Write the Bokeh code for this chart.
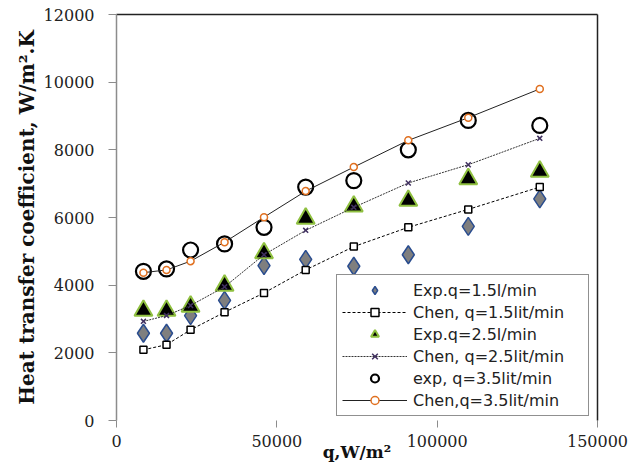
from bokeh.plotting import figure
from bokeh.models import LinearAxis, Range1d, FixedTicker, Legend, BasicTickFormatter
from bokeh.embed import file_html
from bokeh.resources import INLINE

# data
q = [8400, 15600, 23100, 33700, 46000, 59000, 74000, 91000, 109700, 132000]
exp_15 = [2580, 2580, 3100, 3550, 4580, 4760, 4560, 4900, 5740, 6550]
chen_15 = [2090, 2240, 2680, 3200, 3770, 4450, 5140, 5710, 6240, 6900]
exp_25 = [3250, 3250, 3370, 3990, 4950, 5970, 6330, 6500, 7140, 7360]
chen_25 = [2930, 3100, 3400, 3950, 4900, 5620, 6300, 7020, 7560, 8340]
exp_35 = [4410, 4480, 5040, 5220, 5710, 6900, 7090, 8000, 8870, 8720]
chen_35 = [4370, 4450, 4710, 5270, 6010, 6780, 7490, 8280, 8950, 9800]

x_ticks = [0, 50000, 100000, 150000]
y_ticks = [0, 2000, 4000, 6000, 8000, 10000, 12000]

labels = ["Exp.q=1.5l/min", "Chen, q=1.5lit/min", "Exp.q=2.5l/min",
          "Chen, q=2.5lit/min", "exp, q=3.5lit/min", "Chen,q=3.5lit/min"]

p = figure(width=630, height=466, output_backend="svg", toolbar_location=None,
           x_range=Range1d(0, 150000), y_range=Range1d(0, 12000),
           min_border_left=116, min_border_right=33, min_border_top=14,
           min_border_bottom=46)
p.outline_line_color = None
p.xgrid.visible = False
p.ygrid.visible = False
p.background_fill_color = "white"
p.border_fill_color = "white"

grey = "#8c8c8c"
serif = "DejaVu Serif"

# x axis
xa = p.xaxis[0]
xa.ticker = FixedTicker(ticks=x_ticks)
xa.formatter = BasicTickFormatter(use_scientific=False)
xa.axis_line_color = None
xa.major_tick_line_color = grey
xa.major_tick_in = 0
xa.major_tick_out = 7
xa.minor_tick_line_color = None
xa.major_label_text_font = serif
xa.major_label_text_font_size = "16px"
xa.major_label_text_color = "#222222"
xa.major_label_standoff = 7
xa.axis_label = "q,W/m\u00b2"
xa.axis_label_text_font = serif
xa.axis_label_text_font_style = "bold"
xa.axis_label_text_font_size = "17px"
xa.axis_label_text_color = "#111111"
xa.axis_label_standoff = -8

# y axis
ya = p.yaxis[0]
ya.ticker = FixedTicker(ticks=y_ticks)
ya.formatter = BasicTickFormatter(use_scientific=False)
ya.axis_line_color = grey
ya.axis_line_width = 1.5
ya.major_tick_line_color = grey
ya.major_tick_in = 0
ya.major_tick_out = 8
ya.minor_tick_line_color = None
ya.major_label_text_font = serif
ya.major_label_text_font_size = "16px"
ya.major_label_text_color = "#222222"
ya.major_label_standoff = 14
ya.axis_label = "Heat transfer coefficient, W/m\u00b2.K"
ya.axis_label_text_font = serif
ya.axis_label_text_font_style = "bold"
ya.axis_label_text_font_size = "20px"
ya.axis_label_text_color = "#111111"
ya.axis_label_standoff = 2

# frame lines top and right
for side in ("above", "right"):
    ax = LinearAxis(ticker=FixedTicker(ticks=[]), major_label_text_font_size="0px",
                    axis_line_color="#222222", axis_line_width=1.5,
                    major_tick_line_color=None, minor_tick_line_color=None,
                    major_label_standoff=0)
    p.add_layout(ax, side)

items = []
r1 = p.scatter(q, exp_15, marker="diamond", size=18, fill_color="#7f7f7f",
               line_color="#2a4d8f", line_width=1.5)
items.append((labels[0], [r1]))

l2 = p.line(q, chen_15, line_color="black", line_width=1, line_dash="3 2")
r2 = p.scatter(q, chen_15, marker="square", size=7, fill_color="white",
               line_color="black", line_width=1.5)
items.append((labels[1], [l2, r2]))

r3 = p.scatter(q, exp_25, marker="triangle", size=18, fill_color="black",
               line_color="#8fc040", line_width=2)
items.append((labels[2], [r3]))

l4 = p.line(q, chen_25, line_color="#333333", line_width=1, line_dash="2 1")
r4 = p.scatter(q, chen_25, marker="x", size=7, line_color="#403060", line_width=1.5)
items.append((labels[3], [l4, r4]))

r5 = p.scatter(q, exp_35, marker="circle", size=15, fill_color=None,
               line_color="black", line_width=2.2)
items.append((labels[4], [r5]))

l6 = p.line(q, chen_35, line_color="#222222", line_width=1)
r6 = p.scatter(q, chen_35, marker="circle", size=7, fill_color="white",
               line_color="#e07020", line_width=1.5)
items.append((labels[5], [l6, r6]))

legend = Legend(items=items, location=(220, 4))
legend.border_line_color = "#222222"
legend.border_line_width = 1.5
legend.background_fill_color = "white"
legend.background_fill_alpha = 1
legend.label_text_font = "DejaVu Sans"
legend.label_text_font_size = "16px"
legend.label_text_color = "#222222"
legend.glyph_width = 65
legend.glyph_height = 20
legend.label_height = 20
legend.label_width = 170
legend.label_standoff = 6
legend.spacing = 2
legend.padding = 5
legend.margin = 0
p.add_layout(legend, "center")

open("out.html", "w").write(file_html(p, INLINE))
